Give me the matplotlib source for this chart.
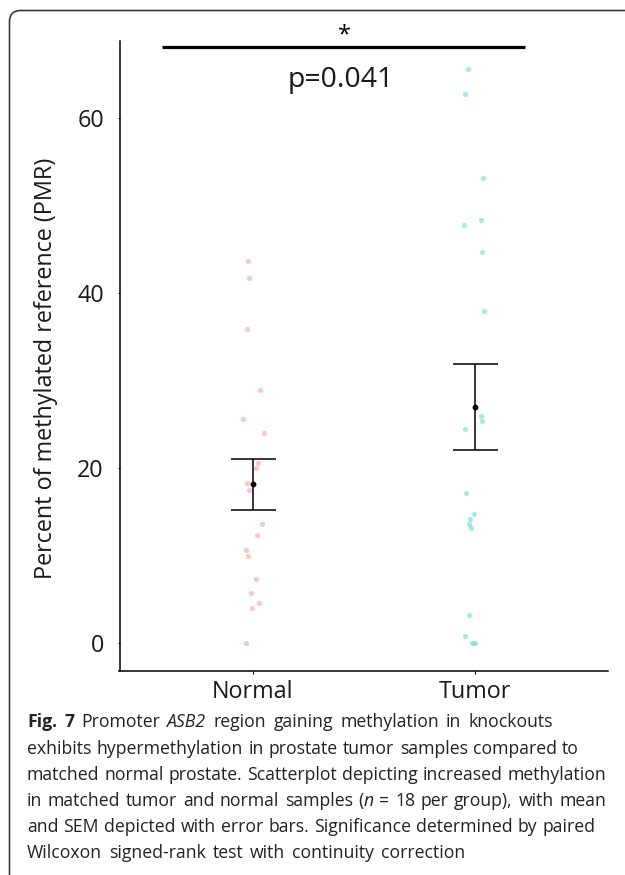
import numpy as np
import matplotlib
matplotlib.use('Agg')
import matplotlib.pyplot as plt
from matplotlib.patches import FancyBboxPatch
from matplotlib.transforms import Affine2D

# ---------------- data ----------------
groups = ['Normal', 'Tumor']
normal_pmr = [43.7, 41.7, 35.9, 28.95, 25.6, 24.0, 20.6, 20.0, 18.3, 17.5,
              13.6, 12.3, 10.6, 10.0, 7.35, 5.7, 4.6, 4.0, 0.0]
normal_jitter = [-0.023, -0.017, -0.026, 0.035, -0.044, 0.051, 0.023, 0.014, -0.026, -0.018,
                 0.041, 0.021, -0.030, -0.023, 0.014, -0.009, 0.026, -0.005, -0.030]
tumor_pmr = [65.6, 62.8, 53.1, 48.3, 47.8, 44.7, 38.0, 26.0, 25.4, 24.5,
             17.2, 14.7, 14.2, 13.6, 13.2, 3.2, 0.8, 0.0, 0.0]
tumor_jitter = [-0.032, -0.042, 0.039, 0.026, -0.050, 0.033, 0.042, 0.030, 0.033, -0.045,
                -0.039, -0.005, -0.023, -0.024, -0.015, -0.028, -0.043, -0.012, 0.0]
y_ticks = [0, 20, 40, 60]
y_label = 'Percent of methylated reference (PMR)'
p_label = 'p=0.041'
sig_label = '*'

caption_lines = [
    [('Fig. 7', 'bold'), (' Promoter ', 'normal'), ('ASB2', 'italic'),
     (' region gaining methylation in knockouts', 'normal')],
    [('exhibits hypermethylation in prostate tumor samples compared to', 'normal')],
    [('matched normal prostate. Scatterplot depicting increased methylation', 'normal')],
    [('in matched tumor and normal samples (', 'normal'), ('n', 'italic'),
     (' = 18 per group), with mean', 'normal')],
    [('and SEM depicted with error bars. Significance determined by paired', 'normal')],
    [('Wilcoxon signed-rank test with continuity correction', 'normal')],
]

FONT = 'Open Sans'
CAP_FONT = 'Open Sans'
W, H = 625, 875
fig = plt.figure(figsize=(W / 100, H / 100), dpi=100)
px = Affine2D().scale(1 / W, -1 / H).translate(0, 1) + fig.transFigure

# border (rounded panel frame)
frame = FancyBboxPatch((9.5, 10.5), 640, 880,
                       boxstyle='round,pad=0,rounding_size=11',
                       transform=px, fill=False, edgecolor='#3a3a3a',
                       linewidth=1.2, zorder=0)
fig.patches.append(frame)

# ---------------- axes ----------------
left, right, top, bottom = 119.5, 608, 41, 671
ax = fig.add_axes([left / W, 1 - bottom / H, (right - left) / W, (bottom - top) / H])
ax.set_xlim(0.4, 2.6)
ax.set_ylim(-3.2, 68.8)
for s in ['top', 'right']:
    ax.spines[s].set_visible(False)
for s in ['left', 'bottom']:
    ax.spines[s].set_linewidth(1.1)
    ax.spines[s].set_color('black')

xpos = [1, 2]
colors = ['#F8766D', '#00BFC4']
alphas = [0.42, 0.35]
for x0, vals, jit, c, a in zip(xpos, [normal_pmr, tumor_pmr], [normal_jitter, tumor_jitter], colors, alphas):
    xs = np.array(jit) + x0
    ax.scatter(xs, vals, s=14, color=c, alpha=a, linewidths=0, zorder=2)
    v = np.array(vals)
    m = v.mean()
    sem = v.std(ddof=1) / np.sqrt(len(v))
    ax.errorbar([x0], [m], yerr=[sem], fmt='o', color='black', ms=3.2,
                capsize=16.2, elinewidth=1.1, capthick=1.1, zorder=3)

ax.set_xticks(xpos)
ax.set_xticklabels(groups, fontsize=16.8, family=FONT, color='#1a1a1a')
ax.set_yticks(y_ticks)
ax.set_yticklabels([str(t) for t in y_ticks], fontsize=16.8, family=FONT, color='#1a1a1a')
ax.tick_params(axis='y', length=1.8, width=0.8, pad=9.4)
ax.tick_params(axis='x', length=1.8, width=0.8, pad=4.5)
ax.set_ylabel(y_label, fontsize=16.8, family=FONT, color='#1a1a1a')
ax.yaxis.set_label_coords((46 - left) / (right - left), 0.48)
ax.yaxis.label.set_verticalalignment('center')

# significance annotation
ax.plot([0.593, 2.224], [68.1, 68.1], color='black', lw=2.3, clip_on=False,
        solid_capstyle='butt', zorder=4)
ax.text(1.413, 69.4, sig_label, ha='center', va='center', fontsize=17,
        family=FONT, clip_on=False)
ax.text(1.395, 63.6, p_label, ha='center', va='baseline', fontsize=20.5,
        family=FONT, color='#1a1a1a', clip_on=False)

# ---------------- caption ----------------
fig.canvas.draw()
renderer = fig.canvas.get_renderer()


def style_kw(fs, style):
    kw = dict(fontsize=fs, family=CAP_FONT)
    if style == 'bold':
        kw['fontweight'] = 'bold'
    elif style == 'italic':
        kw['fontstyle'] = 'italic'
    return kw


def text_width(s, fs, style):
    kw = style_kw(fs, style)
    t1 = fig.text(0, 0, 'X' + s + 'X', **kw)
    t2 = fig.text(0, 0, 'XX', **kw)
    w = t1.get_window_extent(renderer).width - t2.get_window_extent(renderer).width
    t1.remove(); t2.remove()
    return w


def tokenize(line):
    toks = []
    for s, st in line:
        parts = s.split(' ')
        for i, part in enumerate(parts):
            if i > 0:
                toks.append((None, st))
            if part:
                toks.append((part, st))
    return toks


ref_w = sum(text_width(s, 10, st) for s, st in caption_lines[2])
cap_fs = 10 * 577 / ref_w
space_w = text_width(' ', cap_fs, 'normal')

x_start = 27
line_ends = [577, 579, 606, 606, 595, 465]
baselines = [727, 753.5, 780, 806, 832, 858]
for line, yb, xe in zip(caption_lines, baselines, line_ends):
    toks = tokenize(line)
    widths = [space_w if t is None else text_width(t, cap_fs, st) for t, st in toks]
    n_sp = sum(1 for t, _ in toks if t is None)
    extra = (xe - x_start - sum(widths)) / max(n_sp, 1)
    extra = max(min(extra, 2.5), -1.0)
    x = x_start
    for (t, st), w in zip(toks, widths):
        if t is None:
            x += w + extra
            continue
        fig.text(x, yb, t, transform=px, va='baseline', ha='left',
                 color='#222222', **style_kw(cap_fs, st))
        x += w

fig.savefig('out.png', dpi=100)
